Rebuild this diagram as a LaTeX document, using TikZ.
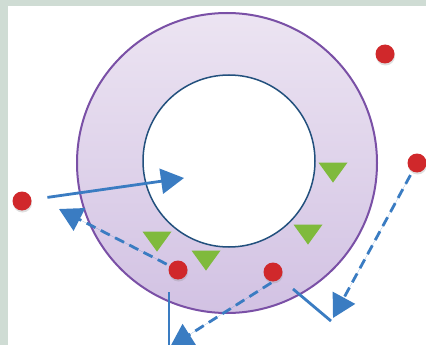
\documentclass[tikz,border=0pt]{standalone}
\usepackage{xcolor}
\usepackage{tikz}
\usetikzlibrary{arrows.meta,shapes.geometric,shadows}

\definecolor{framegray}{HTML}{CFDCD4}
\definecolor{arrowblue}{HTML}{3A7CC2}
\definecolor{dotred}{HTML}{D0282B}
\definecolor{leafgreen}{HTML}{7FBA3C}
\definecolor{ringline}{HTML}{7A50A6}
\definecolor{ringtop}{HTML}{ECE4F2}
\definecolor{ringbot}{HTML}{D2C2E3}
\definecolor{holeline}{HTML}{22507D}

\begin{document}
\begin{tikzpicture}[
      x=1pt, y=-1pt,
      dot/.style = {circle, fill=dotred, minimum size=19pt, inner sep=0pt,
                    drop shadow={opacity=0.25, shadow xshift=0.5pt, shadow yshift=-2pt}},
      leaf/.style = {isosceles triangle, isosceles triangle stretches,
                     shape border rotate=270, fill=leafgreen, inner sep=0pt,
                     minimum width=29pt, minimum height=20pt},
      arrow/.style = {-{Triangle[length=23pt, width=25pt]}, line width=2.8pt,
                      draw=arrowblue, fill=arrowblue},
      link/.style = {line width=2.8pt, draw=arrowblue},
      dashline/.style = {dash pattern=on 10pt off 6pt}
    ]
    % frame
    \fill[framegray] (0,0) rectangle (426,345);
    \fill[white] (8,6) rectangle (426,345);
    \useasboundingbox (0,0) rectangle (426,345);

    % ring and hole
    \node (ring) [circle, minimum size=300pt, draw=ringline, line width=2pt,
                  top color=ringtop, bottom color=ringbot] at (227,163) {};
    \node (hole) [circle, minimum size=172pt, draw=holeline, line width=1.5pt,
                  fill=white] at (229,161) {};

    % markers
    \node (t1) [leaf] at (333,170) {};
    \node (t2) [leaf] at (157,239) {};
    \node (t3) [leaf] at (206,258) {};
    \node (t4) [leaf] at (308,232) {};

    \node (dL)  [dot] at (22,201)  {};
    \node (dTR) [dot] at (385,54)  {};
    \node (dR)  [dot] at (417,163) {};
    \node (dB1) [dot] at (178,270) {};
    \node (dB2) [dot] at (273,272) {};

    \coordinate (in1)  at (184,178);
    \coordinate (out1) at (59,209);
    \coordinate (out2) at (170,347);
    \coordinate (out3) at (333,318);
    \coordinate (v1)   at (169,292);
    \coordinate (v2)   at (169,346);
    \coordinate (w1)   at (293,289);
    \coordinate (w2)   at (331,321);

    \draw[arrow, shorten <=16pt] (dL) -- (in1);
    \draw[arrow, dashline, shorten <=3pt] (dB1) -- (out1);
    \draw[arrow, dashline, shorten <=2pt] (dB2.south) -- (out2);
    \draw[arrow, dashline, shorten <=4pt] (dR) -- (out3);

    \draw[link] (v1) -- (v2);
    \draw[link] (w1) -- (w2);
  \end{tikzpicture}
\end{document}
